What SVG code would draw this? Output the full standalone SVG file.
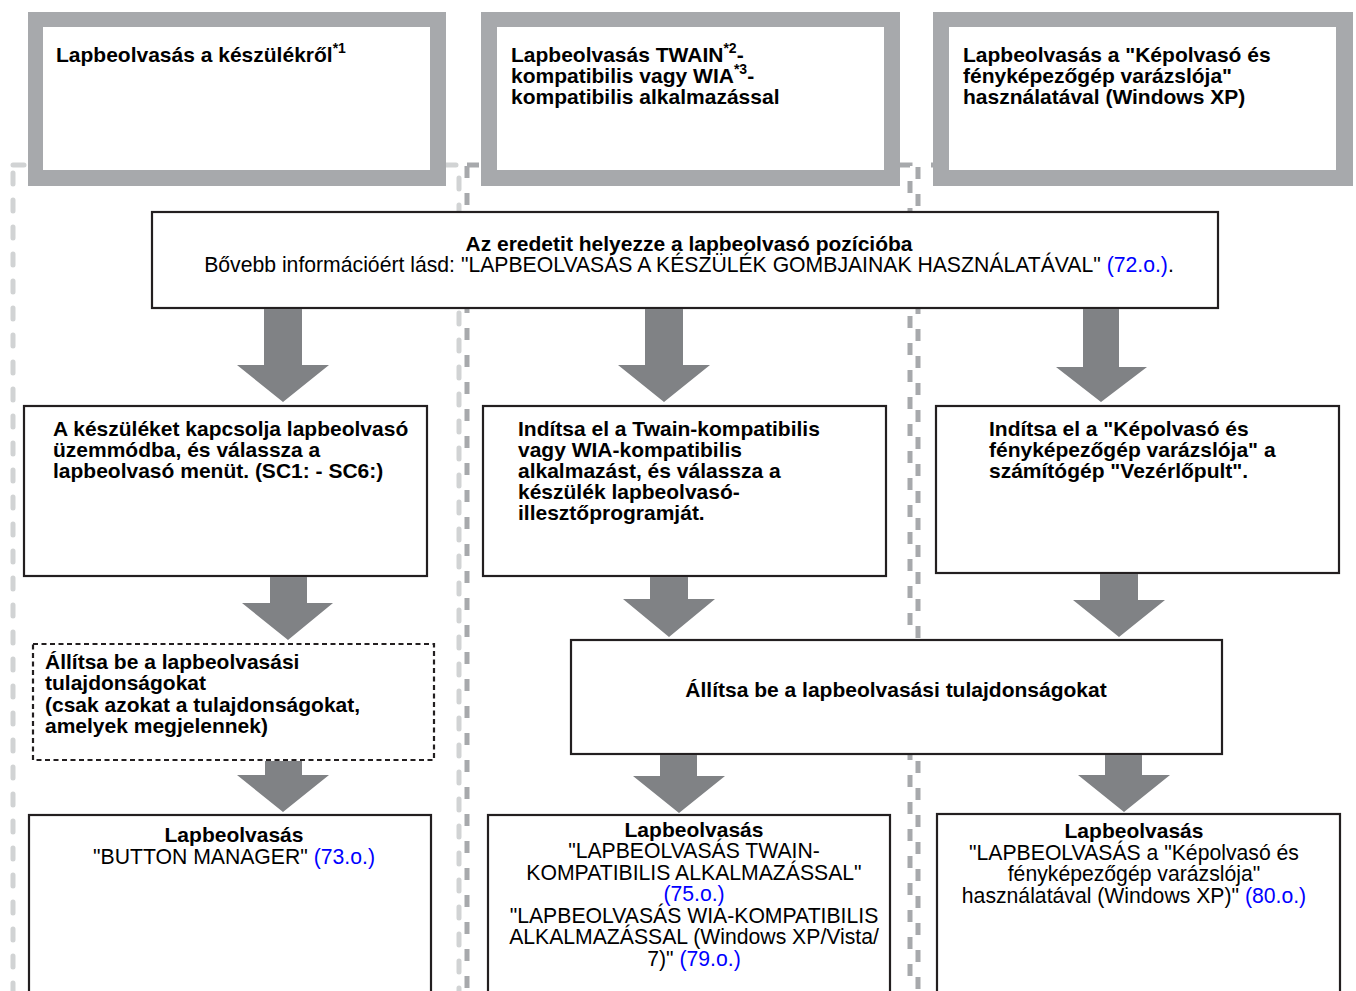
<svg xmlns="http://www.w3.org/2000/svg" width="1356" height="991" viewBox="0 0 1356 991">
<style>
text{font-family:"Liberation Sans",Arial,sans-serif;font-size:21.2px;fill:#000}
.b{font-weight:bold;font-size:21px}
.c{text-anchor:middle}
.lnk{fill:#0000ff}
.sup{font-size:14px}
.hdr-outer{fill:#a7a9ac}
.hdr-inner{fill:#fff}
.box{fill:#fff;stroke:#231f20;stroke-width:2.2}
.dbox{fill:#fff;stroke:#231f20;stroke-width:2.2;stroke-dasharray:5 3.5}
.sep1{fill:none;stroke:#d1d3d4;stroke-width:5;stroke-linecap:round;stroke-dasharray:11 16}
.sep2{fill:none;stroke:#a7a9ac;stroke-width:5;stroke-dasharray:12 15}
.arr{fill:#808285}
</style>
<g id="columns">
<rect class="sep1" x="13" y="165" width="446" height="900"/>
<rect class="sep2" x="467" y="165" width="443" height="900"/>
<rect class="sep2" x="918" y="165" width="450" height="900" stroke-dashoffset="14"/>
</g>
<g id="header1">
<rect class="hdr-outer" x="28" y="12" width="418" height="174"/>
<rect class="hdr-inner" x="43" y="27" width="387" height="143"/>
<text class="b" x="56" y="62">Lapbeolvasás a készülékről<tspan class="sup" dy="-9">*1</tspan></text>
</g>
<g id="header2">
<rect class="hdr-outer" x="481" y="12" width="419" height="174"/>
<rect class="hdr-inner" x="497" y="27" width="387" height="143"/>
<text class="b" x="511" y="62">Lapbeolvasás TWAIN<tspan class="sup" dy="-9">*2</tspan><tspan dy="9">-</tspan></text>
<text class="b" x="511" y="83">kompatibilis vagy WIA<tspan class="sup" dy="-9">*3</tspan><tspan dy="9">-</tspan></text>
<text class="b" x="511" y="104">kompatibilis alkalmazással</text>
</g>
<g id="header3">
<rect class="hdr-outer" x="933" y="12" width="420" height="174"/>
<rect class="hdr-inner" x="949" y="27" width="387" height="143"/>
<text class="b" x="963" y="62">Lapbeolvasás a "Képolvasó és</text>
<text class="b" x="963" y="83">fényképezőgép varázslója"</text>
<text class="b" x="963" y="104">használatával (Windows XP)</text>
</g>
<g id="place">
<rect class="box" x="152" y="212" width="1066" height="96"/>
<text class="b c" x="689" y="251">Az eredetit helyezze a lapbeolvasó pozícióba</text>
<text class="c" x="689" y="272">Bővebb információért lásd: "LAPBEOLVASÁS A KÉSZÜLÉK GOMBJAINAK HASZNÁLATÁVAL" <tspan class="lnk">(72.o.)</tspan>.</text>
</g>
<g id="step-a">
<rect class="box" x="24" y="406" width="403" height="170"/>
<text class="b" x="53" y="436">A készüléket kapcsolja lapbeolvasó</text>
<text class="b" x="53" y="457">üzemmódba, és válassza a</text>
<text class="b" x="53" y="478">lapbeolvasó menüt. (SC1: - SC6:)</text>
</g>
<g id="step-b">
<rect class="box" x="483" y="406" width="403" height="170"/>
<text class="b" x="518" y="436">Indítsa el a Twain-kompatibilis</text>
<text class="b" x="518" y="457">vagy WIA-kompatibilis</text>
<text class="b" x="518" y="478">alkalmazást, és válassza a</text>
<text class="b" x="518" y="499">készülék lapbeolvasó-</text>
<text class="b" x="518" y="520">illesztőprogramját.</text>
</g>
<g id="step-c">
<rect class="box" x="936" y="406" width="403" height="167"/>
<text class="b" x="989" y="436">Indítsa el a "Képolvasó és</text>
<text class="b" x="989" y="457">fényképezőgép varázslója" a</text>
<text class="b" x="989" y="478">számítógép "Vezérlőpult".</text>
</g>
<g id="props-a">
<rect class="dbox" x="33" y="644" width="401" height="116"/>
<text class="b" x="45" y="669">Állítsa be a lapbeolvasási</text>
<text class="b" x="45" y="690">tulajdonságokat</text>
<text class="b" x="45" y="712">(csak azokat a tulajdonságokat,</text>
<text class="b" x="45" y="733">amelyek megjelennek)</text>
</g>
<g id="props-bc">
<rect class="box" x="571" y="640" width="651" height="114"/>
<text class="b c" x="896" y="697">Állítsa be a lapbeolvasási tulajdonságokat</text>
</g>
<g id="scan-a">
<rect class="box" x="29" y="815" width="402" height="200"/>
<text class="b c" x="234" y="842">Lapbeolvasás</text>
<text class="c" x="234" y="864">"BUTTON MANAGER" <tspan class="lnk">(73.o.)</tspan></text>
</g>
<g id="scan-b">
<rect class="box" x="488" y="815" width="402" height="200"/>
<text class="b c" x="694" y="837">Lapbeolvasás</text>
<text class="c" x="694" y="858">"LAPBEOLVASÁS TWAIN-</text>
<text class="c" x="694" y="879.5">KOMPATIBILIS ALKALMAZÁSSAL"</text>
<text class="c lnk" x="694" y="901">(75.o.)</text>
<text class="c" x="694" y="922.5">"LAPBEOLVASÁS WIA-KOMPATIBILIS</text>
<text class="c" x="694" y="944">ALKALMAZÁSSAL (Windows XP/Vista/</text>
<text class="c" x="694" y="965.5">7)" <tspan class="lnk">(79.o.)</tspan></text>
</g>
<g id="scan-c">
<rect class="box" x="937" y="814" width="403" height="200"/>
<text class="b c" x="1134" y="838">Lapbeolvasás</text>
<text class="c" x="1134" y="859.5">"LAPBEOLVASÁS a "Képolvasó és</text>
<text class="c" x="1134" y="881">fényképezőgép varázslója"</text>
<text class="c" x="1134" y="902.5">használatával (Windows XP)" <tspan class="lnk">(80.o.)</tspan></text>
</g>
<g id="connectors">
<path class="arr" d="M264 309H302V365H329L283 402L237 365H264Z"/>
<path class="arr" d="M645 309H683V365H710L664 402L618 365H645Z"/>
<path class="arr" d="M1083 309H1119V367H1147L1101 402L1056 367H1083Z"/>
<path class="arr" d="M270 577H307V603H333L288 640L242 603H270Z"/>
<path class="arr" d="M650 577H688V599H715L669 637L623 599H650Z"/>
<path class="arr" d="M1100 574H1138V600H1165L1119 637L1073 600H1100Z"/>
<path class="arr" d="M265 761H302V775H329L283 812L237 775H265Z"/>
<path class="arr" d="M660 755H697V776H725L679 813L633 776H660Z"/>
<path class="arr" d="M1105 755H1142V775H1170L1124 812L1078 775H1105Z"/>
</g>
</svg>
